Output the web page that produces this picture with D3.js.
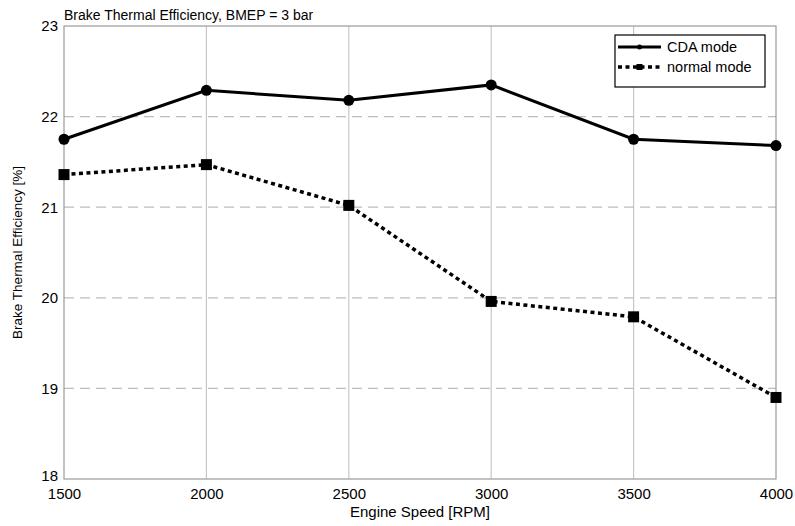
<!DOCTYPE html>
<html>
<head>
<meta charset="utf-8">
<script src="https://cdn.jsdelivr.net/npm/d3@7"></script>
<style>
	body { margin: 0; background: #fff; }
	text { font-family: "Liberation Sans", Arial, sans-serif; fill: #000; }
</style>
</head>
<body>
<div id="chart"></div>
<script>

var speeds = [1500, 2000, 2500, 3000, 3500, 4000];
var cdaMode = [21.75, 22.29, 22.18, 22.35, 21.75, 21.68];
var normalMode = [21.36, 21.47, 21.02, 19.96, 19.79, 18.90];
var xTicks = [1500, 2000, 2500, 3000, 3500, 4000];
var yTicks = [18, 19, 20, 21, 22, 23];

var width = 795, height = 526;
var margin = {top: 26, right: 19, bottom: 47, left: 64};

var svg = d3.select('#chart').append('svg')
	.attr('width', width)
	.attr('height', height);

var x = d3.scaleLinear().domain([1500, 4000]).range([margin.left, width - margin.right]);
var y = d3.scaleLinear().domain([18, 23]).range([height - margin.bottom, margin.top]);

// Grid
svg.append('g').selectAll('line')
	.data(xTicks.slice(1, -1))
	.enter().append('line')
	.attr('x1', (d) => x(d)).attr('x2', (d) => x(d))
	.attr('y1', y(18)).attr('y2', y(23))
	.attr('stroke', '#c8c8c8').attr('stroke-width', 1.2);

svg.append('g').selectAll('line')
	.data(yTicks.slice(1, -1))
	.enter().append('line')
	.attr('x1', x(1500)).attr('x2', x(4000))
	.attr('y1', (d) => y(d)).attr('y2', (d) => y(d))
	.attr('stroke', '#bdbdbd').attr('stroke-width', 1.2)
	.attr('stroke-dasharray', '10,6');

// Frame
svg.append('rect')
	.attr('x', x(1500)).attr('y', y(23))
	.attr('width', x(4000) - x(1500)).attr('height', y(18) - y(23))
	.attr('fill', 'none').attr('stroke', '#9a9a9a').attr('stroke-width', 1.2);

// Axes (labels only)
var xAxis = svg.append('g')
	.attr('transform', 'translate(0,' + y(18) + ')')
	.call(d3.axisBottom(x).tickValues(xTicks).tickSize(0).tickPadding(9).tickFormat(d3.format('d')));
xAxis.select('.domain').remove();
xAxis.selectAll('text').attr('font-size', 15).style('font-family', '"Liberation Sans", Arial, sans-serif');

var yAxis = svg.append('g')
	.attr('transform', 'translate(' + x(1500) + ',0)')
	.call(d3.axisLeft(y).tickValues(yTicks).tickSize(0).tickPadding(6).tickFormat(d3.format('d')));
yAxis.select('.domain').remove();
yAxis.selectAll('text').attr('font-size', 15).style('font-family', '"Liberation Sans", Arial, sans-serif');
// the bottom label sits a bit higher, as in the original
yAxis.selectAll('.tick').filter((d) => d === 18).select('text').attr('dy', '0.1em');

// Titles
svg.append('text')
	.attr('x', x(1500)).attr('y', 20)
	.attr('font-size', 14)
	.text('Brake Thermal Efficiency, BMEP = 3 bar');

svg.append('text')
	.attr('x', (x(1500) + x(4000)) / 2).attr('y', 517)
	.attr('text-anchor', 'middle').attr('font-size', 15)
	.text('Engine Speed [RPM]');

svg.append('text')
	.attr('transform', 'translate(22,' + ((y(18) + y(23)) / 2) + ') rotate(-90)')
	.attr('text-anchor', 'middle').attr('font-size', 13.5)
	.text('Brake Thermal Efficiency [%]');

// Series
var line = d3.line()
	.x((d) => x(d[0]))
	.y((d) => y(d[1]));

var cdaData = speeds.map((s, i) => [s, cdaMode[i]]);
var normalData = speeds.map((s, i) => [s, normalMode[i]]);

svg.append('path')
	.datum(cdaData)
	.attr('d', line)
	.attr('fill', 'none').attr('stroke', '#000').attr('stroke-width', 3);

svg.append('g').selectAll('circle')
	.data(cdaData)
	.enter().append('circle')
	.attr('cx', (d) => x(d[0])).attr('cy', (d) => y(d[1]))
	.attr('r', 5.5).attr('fill', '#000');

svg.append('path')
	.datum(normalData)
	.attr('d', line)
	.attr('fill', 'none').attr('stroke', '#000').attr('stroke-width', 3.5)
	.attr('stroke-dasharray', '4,3.5');

svg.append('g').selectAll('rect')
	.data(normalData)
	.enter().append('rect')
	.attr('x', (d) => x(d[0]) - 5.5).attr('y', (d) => y(d[1]) - 5.5)
	.attr('width', 11).attr('height', 11).attr('fill', '#000');

// Legend
var legend = svg.append('g').attr('transform', 'translate(615,35)');

legend.append('rect')
	.attr('width', 150).attr('height', 52)
	.attr('fill', '#fff').attr('stroke', '#000').attr('stroke-width', 1.2);

legend.append('line')
	.attr('x1', 3).attr('x2', 46).attr('y1', 12).attr('y2', 12)
	.attr('stroke', '#000').attr('stroke-width', 3);
legend.append('circle')
	.attr('cx', 24.5).attr('cy', 12).attr('r', 2.5).attr('fill', '#000');
legend.append('text')
	.attr('x', 52).attr('y', 17).attr('font-size', 14.5)
	.text('CDA mode');

legend.append('line')
	.attr('x1', 3).attr('x2', 46).attr('y1', 32).attr('y2', 32)
	.attr('stroke', '#000').attr('stroke-width', 3.5)
	.attr('stroke-dasharray', '4,3.5');
legend.append('rect')
	.attr('x', 21.5).attr('y', 29).attr('width', 6).attr('height', 6).attr('fill', '#000');
legend.append('text')
	.attr('x', 52).attr('y', 37).attr('font-size', 14.5)
	.text('normal mode');

</script>
</body>
</html>
